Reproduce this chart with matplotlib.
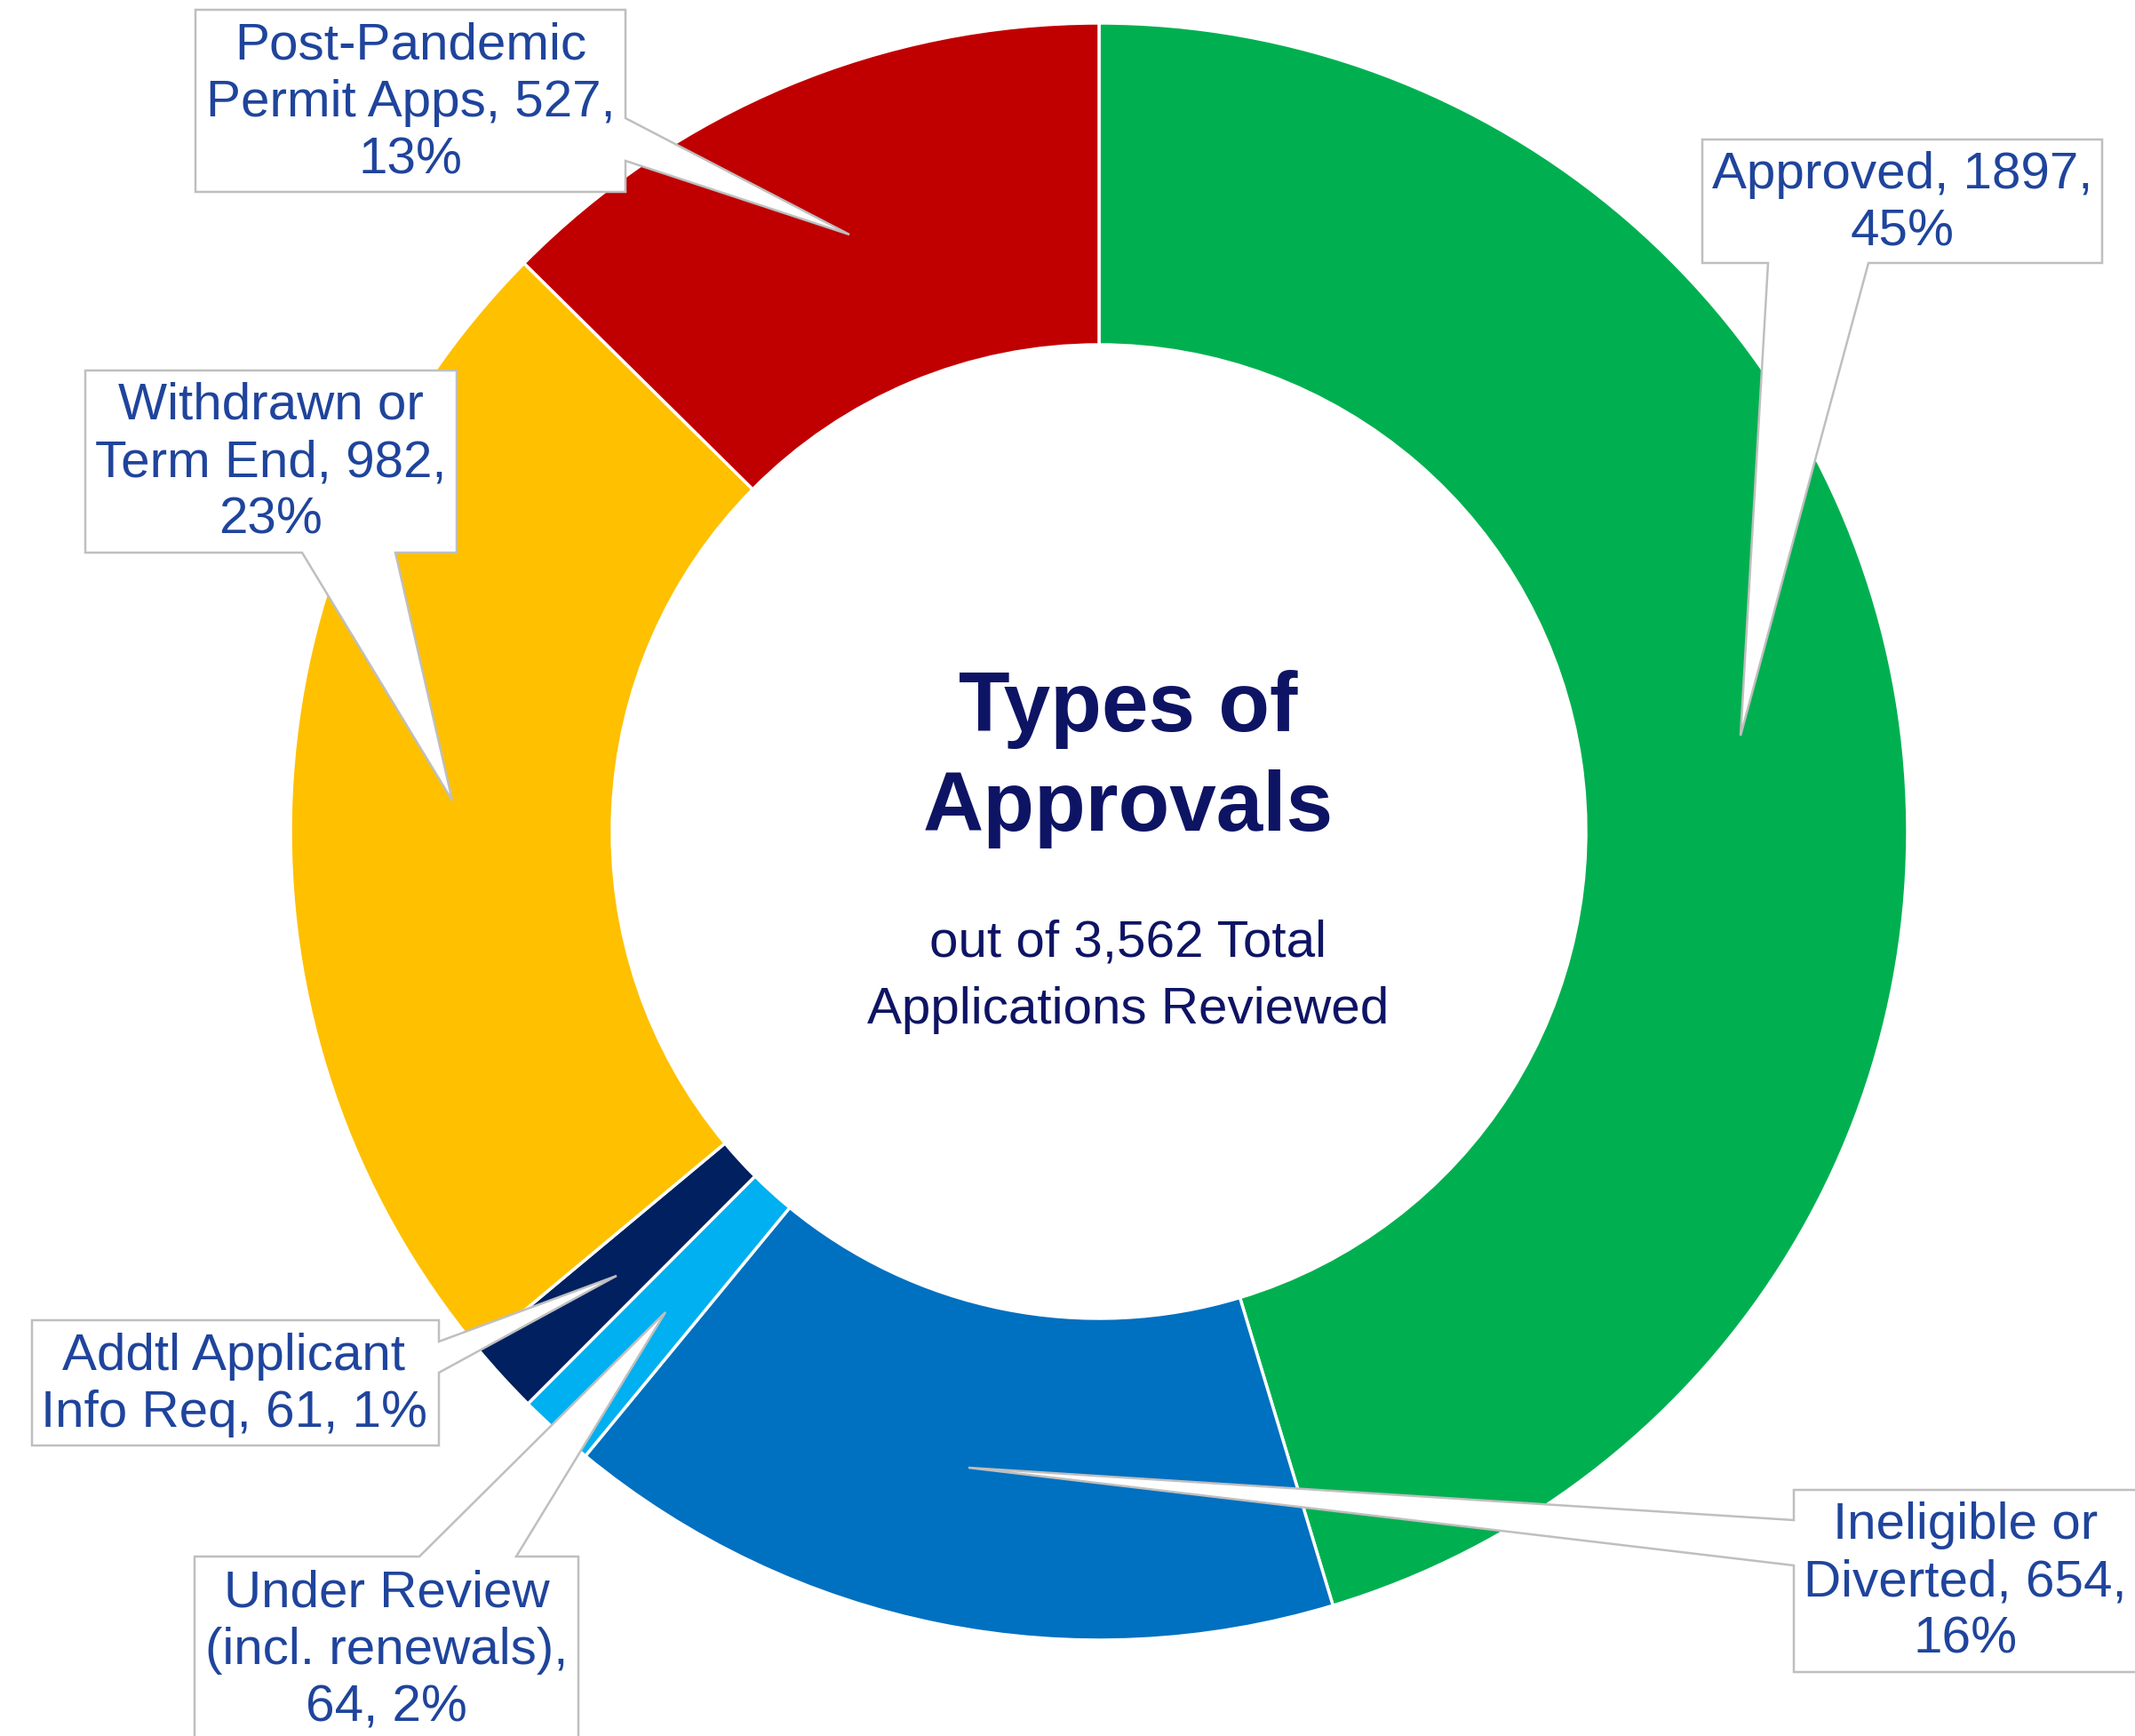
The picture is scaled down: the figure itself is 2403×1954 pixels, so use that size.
import matplotlib
matplotlib.use("Agg")
import matplotlib.pyplot as plt
from matplotlib.patches import Polygon

plt.rcParams['font.family'] = ['Liberation Sans', 'DejaVu Sans']

# ---- data -------------------------------------------------------------
categories = ["Approved", "Ineligible or\nDiverted", "Under Review\n(incl. renewals)",
              "Addtl Applicant\nInfo Req", "Withdrawn or\nTerm End",
              "Post-Pandemic\nPermit Apps"]
values = [1897, 654, 64, 61, 982, 527]
colors = ["#00B050", "#0070C0", "#00B0F0", "#002060", "#FFC000", "#C00000"]
# separators after the name and after the count in each callout
name_sep = [" ", " ", "\n", " ", " ", " "]
value_sep = ["\n", "\n", " ", " ", "\n", "\n"]

title_lines = ["Types of", "Approvals"]
subtitle_lines = ["out of 3,562 Total", "Applications Reviewed"]

# ---- canvas in pixel units (y grows downward) -------------------------
W, H = 2403, 1954
fig = plt.figure(figsize=(W / 100, H / 100), dpi=100)
ax = fig.add_axes([0, 0, 1, 1])

cx, cy = 1237, 936
r_out, r_in = 910, 548

# y axis is inverted, so a data-counterclockwise sweep reads clockwise
wedges, _ = ax.pie(values, colors=colors, startangle=-90, counterclock=True,
                   radius=r_out, center=(cx, cy),
                   wedgeprops=dict(width=r_out - r_in, edgecolor="white",
                                   linewidth=2.5))

ax.set_xlim(0, W)
ax.set_ylim(H, 0)
ax.set_aspect("equal")
ax.axis("off")

# ---- callouts ---------------------------------------------------------
label_color = "#1F449C"
edge_gray = "#BFBFBF"


def callout(box, side, b0, b1, tip):
    x0, y0, x1, y1 = box
    pts = [(x0, y0)]
    if side == "top":
        pts += [(b0, y0), tip, (b1, y0)]
    pts.append((x1, y0))
    if side == "right":
        pts += [(x1, b0), tip, (x1, b1)]
    pts.append((x1, y1))
    if side == "bottom":
        pts += [(b1, y1), tip, (b0, y1)]
    pts.append((x0, y1))
    if side == "left":
        pts += [(x0, b1), tip, (x0, b0)]
    ax.add_patch(Polygon(pts, closed=True, facecolor="white",
                         edgecolor=edge_gray, linewidth=1.8, zorder=5))


# box (x0, y0, x1, y1), pointer side, pointer base span, pointer tip, text centre
callouts = [
    ((1916, 157, 2366, 296), "bottom", 1990, 2103, (1959, 828), (2141, 229)),
    ((2019, 1677, 2460, 1882), "left", 1711, 1762, (1090, 1652), (2212, 1781)),
    ((219, 1752, 651, 2010), "top", 472, 581, (749, 1477), (435, 1858)),
    ((36, 1486, 494, 1627), "right", 1510, 1545, (694, 1436), (263, 1559)),
    ((96, 417, 514, 622), "bottom", 340, 445, (509, 901), (305, 521)),
    ((220, 11, 704, 216), "right", 133, 181, (956, 264), (462, 116)),
]

total = sum(values)
for name, v, s1, s2, (box, side, b0, b1, tip, tpos) in zip(
        categories, values, name_sep, value_sep, callouts):
    pct = round(100 * v / total)
    callout(box, side, b0, b1, tip)
    ax.text(tpos[0], tpos[1], f"{name},{s1}{v},{s2}{pct}%", ha="center",
            va="center", multialignment="center", fontsize=42,
            linespacing=1.25, color=label_color, zorder=6)

# ---- centre text ------------------------------------------------------
navy = "#0E1464"
tx = 1270
for line, yb in zip(title_lines, [823, 935]):
    ax.text(tx, yb, line, ha="center", va="baseline", fontsize=68,
            fontweight="bold", color=navy)
for line, yb in zip(subtitle_lines, [1076, 1152]):
    ax.text(tx, yb, line, ha="center", va="baseline", fontsize=42,
            color=navy)

fig.savefig("out.png", dpi=100, facecolor="white")
